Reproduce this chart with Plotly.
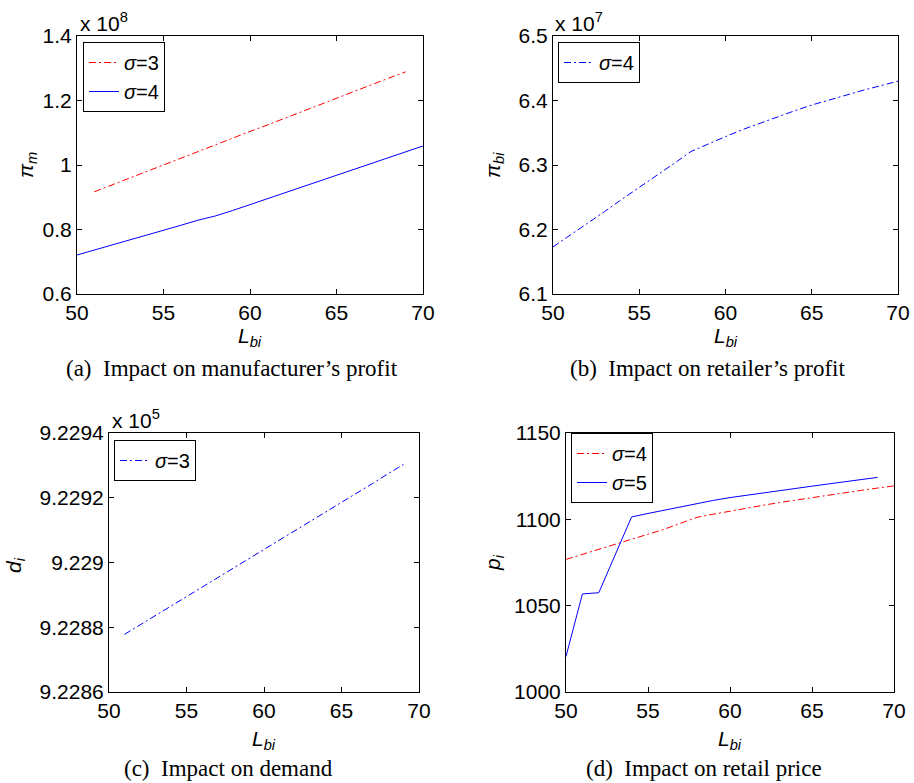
import plotly.graph_objects as go

# ---------------- data ----------------
# (a) manufacturer's profit, x 10^8
a_x_s3 = list(range(51, 70))
a_y_s3 = [0.917, 0.938, 0.958, 0.979, 1.000, 1.020, 1.041, 1.062, 1.083, 1.104,
          1.124, 1.145, 1.166, 1.186, 1.207, 1.228, 1.248, 1.269, 1.289]
a_x_s4 = list(range(50, 71))
a_y_s4 = [0.721, 0.736, 0.751, 0.767, 0.782, 0.797, 0.813, 0.829, 0.842, 0.859,
          0.877, 0.895, 0.913, 0.931, 0.949, 0.967, 0.986, 1.004, 1.022, 1.040, 1.059]

# (b) retailer's profit, x 10^7
b_x_s4 = list(range(50, 71))
b_y_s4 = [6.173, 6.191, 6.210, 6.228, 6.247, 6.265, 6.284, 6.302, 6.321, 6.333,
          6.344, 6.355, 6.365, 6.375, 6.384, 6.393, 6.401, 6.409, 6.416, 6.423, 6.430]

# (c) demand, x 10^5
c_x_s3 = list(range(51, 70))
c_y_s3 = [9.228778, 9.228807, 9.228836, 9.228866, 9.228895, 9.228924, 9.228953,
          9.228982, 9.229011, 9.229040, 9.229069, 9.229099, 9.229128, 9.229157,
          9.229186, 9.229215, 9.229244, 9.229274, 9.229303]

# (d) retail price
d_x_s4 = list(range(50, 71))
d_y_s4 = [1076.8, 1079.7, 1082.6, 1085.6, 1088.6, 1091.2, 1094.3, 1097.8, 1101.2,
          1103.0, 1104.8, 1106.5, 1108.1, 1109.7, 1111.2, 1112.7, 1114.1, 1115.5,
          1116.8, 1118.1, 1119.4]
d_x_s5 = list(range(50, 70))
d_y_s5 = [1020.6, 1056.8, 1057.5, 1079.5, 1101.4, 1103.4, 1105.4, 1107.4, 1109.3,
          1111.0, 1112.6, 1114.0, 1115.4, 1116.7, 1118.0, 1119.2, 1120.5, 1121.7,
          1123.0, 1124.3]

x_ticks = [50, 55, 60, 65, 70]
a_yticks = [0.6, 0.8, 1.0, 1.2, 1.4]
a_yticktext = ["0.6", "0.8", "1", "1.2", "1.4"]
b_yticks = [6.1, 6.2, 6.3, 6.4, 6.5]
b_yticktext = ["6.1", "6.2", "6.3", "6.4", "6.5"]
c_yticks = [9.2286, 9.2288, 9.2290, 9.2292, 9.2294]
c_yticktext = ["9.2286", "9.2288", "9.229", "9.2292", "9.2294"]
d_yticks = [1000, 1050, 1100, 1150]
d_yticktext = ["1000", "1050", "1100", "1150"]

captions = ["(a)  Impact on manufacturer’s profit", "(b)  Impact on retailer’s profit",
            "(c)  Impact on demand", "(d)  Impact on retail price"]

# ---------------- layout helpers ----------------
W, H = 914, 783
SANS = "Liberation Sans, Arial, sans-serif"
SERIF = "Liberation Serif, Times New Roman, serif"
RED = "#ff0000"
BLUE = "#0000ff"
DASHDOT = "7px,3px,2px,3px"

def px(x):
    return x / W

def py(y):
    return 1 - y / H

fig = go.Figure()

def add(x, y, xa, ya, color, dash, name, legend):
    fig.add_trace(go.Scatter(
        x=x, y=y, mode="lines", name=name, xaxis=xa, yaxis=ya, legend=legend,
        line=dict(color=color, width=1, dash=dash)))

add(a_x_s3, a_y_s3, "x", "y", RED, DASHDOT, "<i>σ</i>=3", "legend")
add(a_x_s4, a_y_s4, "x", "y", BLUE, "solid", "<i>σ</i>=4", "legend")
add(b_x_s4, b_y_s4, "x2", "y2", BLUE, DASHDOT, "<i>σ</i>=4", "legend2")
add(c_x_s3, c_y_s3, "x3", "y3", BLUE, DASHDOT, "<i>σ</i>=3", "legend3")
add(d_x_s4, d_y_s4, "x4", "y4", RED, DASHDOT, "<i>σ</i>=4", "legend4")
add(d_x_s5, d_y_s5, "x4", "y4", BLUE, "solid", "<i>σ</i>=5", "legend4")

boxes = {
    1: (77, 423, 36, 294),
    2: (553, 898, 36, 294),
    3: (109, 419, 433, 692),
    4: (566, 894, 433, 692),
}
yinfo = {
    1: ([0.6, 1.4], a_yticks, a_yticktext),
    2: ([6.1, 6.5], b_yticks, b_yticktext),
    3: ([9.2286, 9.2294], c_yticks, c_yticktext),
    4: ([1000, 1150], d_yticks, d_yticktext),
}

layout = dict(
    width=W, height=H, margin=dict(l=0, r=0, t=0, b=0, autoexpand=False),
    paper_bgcolor="white", plot_bgcolor="white",
    font=dict(family=SANS, size=20, color="black"),
)
axis_common = dict(showline=True, linecolor="black", linewidth=1, mirror="ticks",
                   ticks="inside", ticklen=5, tickcolor="black", showgrid=False,
                   zeroline=False, ticklabeloverflow="allow",
                   tickfont=dict(family=SANS, size=21, color="black"))
for i, (l, r, t, b) in boxes.items():
    sx = "" if i == 1 else str(i)
    yr, tv, tt = yinfo[i]
    layout["xaxis" + sx] = dict(domain=[px(l), px(r)], range=[50, 70], tickvals=x_ticks,
                                anchor="y" + sx, **axis_common)
    layout["yaxis" + sx] = dict(domain=[py(b), py(t)], range=yr, tickvals=tv, ticktext=tt,
                                anchor="x" + sx, **axis_common)

legend_common = dict(bgcolor="white", bordercolor="black", borderwidth=1,
                     font=dict(family=SANS, size=20, color="black"),
                     xanchor="left", yanchor="top", tracegroupgap=0)
layout["legend"] = dict(x=px(83), y=py(42), **legend_common)
layout["legend2"] = dict(x=px(558), y=py(42), **legend_common)
layout["legend3"] = dict(x=px(114), y=py(440), **legend_common)
layout["legend4"] = dict(x=px(571), y=py(433), **legend_common)
fig.update_layout(**layout)

ann = []
def text(x, y, s, size=21, family=SANS, angle=0, xanchor="center", yanchor="middle"):
    ann.append(dict(x=px(x), y=py(y), xref="paper", yref="paper", text=s, showarrow=False,
                    font=dict(family=family, size=size, color="black"), textangle=angle,
                    xanchor=xanchor, yanchor=yanchor))

# x axis titles
for cx, cy in [(250, 337), (726, 337), (264, 740), (730, 740)]:
    text(cx, cy, "<i>L<sub>bi</sub></i>")
# y axis titles
text(27, 165, "<i>π<sub>m</sub></i>", angle=-90)
text(494, 165, "<i>π<sub>bi</sub></i>", angle=-90)
text(15, 565, "<i>d<sub>i</sub></i>", angle=-90)
text(494, 563, "<i>p<sub>i</sub></i>", angle=-90)
# exponents
text(78, 22, "x 10<sup>8</sup>", xanchor="left")
text(553, 22, "x 10<sup>7</sup>", xanchor="left")
text(110, 419, "x 10<sup>5</sup>", xanchor="left")
# captions
for (cx, cy), s in zip([(232, 368), (707, 368), (228, 768), (704, 768)], captions):
    text(cx, cy, s, size=23, family=SERIF)

fig.update_layout(annotations=ann)
fig.write_html("out.html", config={"displayModeBar": False},
               post_script="document.body.style.margin='0';")
